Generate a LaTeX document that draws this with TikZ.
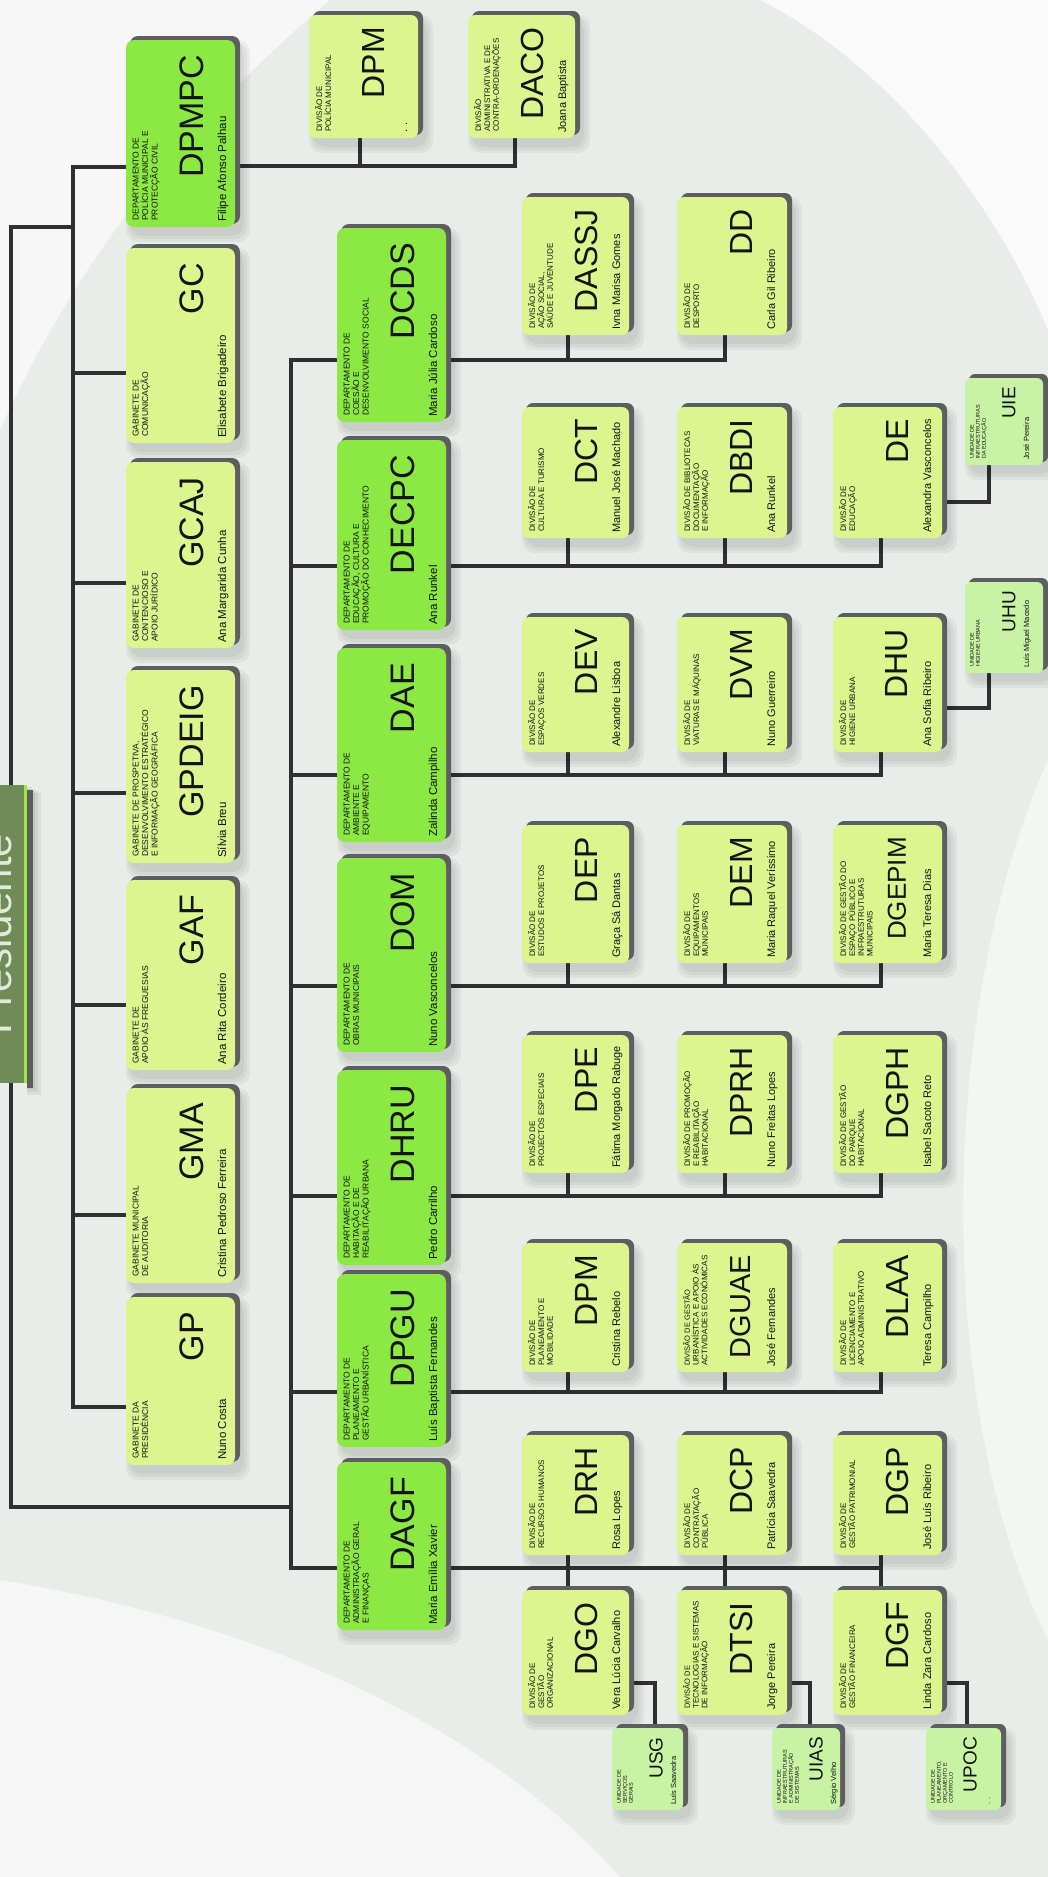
\documentclass[tikz,border=0pt]{standalone}
\usepackage{fontspec}
\setmainfont{Liberation Sans}
\pgfdeclarelayer{back}
\pgfdeclarelayer{wires}
\pgfsetlayers{back,wires,main}
\definecolor{bg}{HTML}{E9EDE9}
\definecolor{deptg}{HTML}{8CE842}
\definecolor{pale}{HTML}{DCF58E}
\definecolor{unitg}{HTML}{C8F2A4}
\definecolor{rim}{HTML}{5E5E5E}
\definecolor{wirec}{HTML}{303030}
\definecolor{txt}{HTML}{141414}
\definecolor{pres}{HTML}{6F8B58}
\definecolor{presline}{HTML}{9EEA3A}
\definecolor{presT}{HTML}{E2EADA}

\newcommand\setgab{\def\oF{pale}\def\oT{6.5}\def\oA{66}\def\oM{15}\def\oP{100}\def\oR{8pt}%
  \def\oTF{\fontsize{8.5}{9.5}\selectfont}\def\oAF{\fontsize{34}{34}\selectfont}\def\oPF{\fontsize{11.5}{12}\selectfont}}
\newcommand\setdept{\setgab\def\oF{deptg}}
\newcommand\setdiv{\def\oF{pale}\def\oT{6}\def\oA{64}\def\oM{12}\def\oP{98}\def\oR{7pt}%
  \def\oTF{\fontsize{8}{8.8}\selectfont}\def\oAF{\fontsize{32}{32}\selectfont}\def\oPF{\fontsize{11}{11}\selectfont}}
\newcommand\setunit{\def\oF{unitg}\def\oT{5}\def\oA{44}\def\oM{9}\def\oP{64}\def\oR{6pt}%
  \def\oTF{\fontsize{5.5}{6}\selectfont}\def\oAF{\fontsize{19}{19}\selectfont}\def\oPF{\fontsize{7.5}{8}\selectfont}}

% #1 name #2 kind #3 x1 #4 y1 #5 x2 #6 y2 #7 title #8 acronym #9 person
\newcommand\obox[9]{%
  \csname set#2\endcsname
  \foreach \k in {1,2,3}{\fill[black,opacity=0.045,rounded corners=12pt] ({#3+6-2*\k},{#4+6-2*\k}) rectangle ({#5+6+3*\k},{#6+6+3*\k});}
  \fill[rim,rounded corners=\oR] ({#3+4},{#4-4}) rectangle ({#5+5},{#6-3});
  \node[fill=\oF,rounded corners=\oR,inner sep=0pt,outer sep=0pt,anchor=north west,
        minimum width={(#5-#3)*1pt},minimum height={(#6-#4)*1pt}] (#1) at (#3,#4) {};
  \node[rotate=90,anchor=north west,inner sep=0pt,align=left,font=\oTF,text=txt] at ({#3+\oT},{#6-6}) {#7};
  \node[rotate=90,anchor=east,inner sep=0pt,font=\oAF,text=txt] at ({#3+\oA},{#4+\oM}) {#8};
  \node[rotate=90,anchor=base west,inner sep=0pt,font=\oPF,text=txt] at ({#3+\oP},{#6-5}) {#9};
}

\begin{document}
\begin{tikzpicture}[x=1pt,y=-1pt,
  wire/.style={draw=wirec,line width=4pt,line cap=rect,line join=miter}]
\useasboundingbox (0,0) rectangle (1048,1877);

\begin{pgfonlayer}{back}
\fill[bg] (0,0) rectangle (1048,1877);
\fill[white,opacity=0.6] (0,0) -- (330,0) .. controls (200,110) and (80,250) .. (0,430) -- cycle;
\fill[white,opacity=0.75] (760,0) .. controls (880,60) and (990,190) .. (1048,330) -- (1048,0) -- cycle;
\fill[white,opacity=0.5] (1048,760) .. controls (940,1000) and (930,1400) .. (1048,1640) -- cycle;
\fill[white,opacity=0.55] (0,1580) .. controls (250,1620) and (480,1720) .. (620,1877) -- (0,1877) -- cycle;
\end{pgfonlayer}

% Presidente
\foreach \k in {1,2,3,4}{\fill[black,opacity=0.06] (27,{785+2*\k}) rectangle ({29+3*\k},{1083+3*\k});}
\fill[rim] (27,790) rectangle (33,1088);
\node[fill=pres,inner sep=0pt,outer sep=0pt,anchor=north west,minimum width=100pt,minimum height=298pt] (pres) at (-73,785) {};
\fill[presline] (23.5,785) rectangle (27,1083);
\node[rotate=90,anchor=base,inner sep=0pt,font=\fontsize{42}{42}\selectfont,text=presT] (prestext) at (12,934) {Presidente};

% Gabinetes
\obox{DPMPC}{dept}{126}{40}{235}{227}{DEPARTAMENTO DE\\POLÍCIA MUNICIPAL E\\PROTECÇÃO CIVIL}{DPMPC}{Filipe Afonso Palhau}
\obox{GC}{gab}{126}{248}{235}{443}{GABINETE DE\\COMUNICAÇÃO}{GC}{Elisabete Brigadeiro}
\obox{GCAJ}{gab}{126}{462}{235}{648}{GABINETE DE\\CONTENCIOSO E\\APOIO JURÍDICO}{GCAJ}{Ana Margarida Cunha}
\obox{GPDEIG}{gab}{126}{670}{235}{863}{GABINETE DE PROSPETIVA,\\DESENVOLVIMENTO ESTRATÉGICO\\E INFORMAÇÃO GEOGRÁFICA}{GPDEIG}{Sílvia Breu}
\obox{GAF}{gab}{126}{880}{235}{1070}{GABINETE DE\\APOIO ÀS FREGUESIAS}{GAF}{Ana Rita Cordeiro}
\obox{GMA}{gab}{126}{1088}{235}{1283}{GABINETE MUNICIPAL\\DE AUDITORIA}{GMA}{Cristina Pedroso Ferreira}
\obox{GP}{gab}{126}{1297}{235}{1465}{GABINETE DA\\PRESIDÊNCIA}{GP}{Nuno Costa}

% Departamentos
\obox{DCDS}{dept}{337}{228}{446}{422}{DEPARTAMENTO DE\\COESÃO E\\DESENVOLVIMENTO SOCIAL}{DCDS}{Maria Júlia Cardoso}
\obox{DECPC}{dept}{337}{440}{446}{630}{DEPARTAMENTO DE\\EDUCAÇÃO, CULTURA E\\PROMOÇÃO DO CONHECIMENTO}{DECPC}{Ana Runkel}
\obox{DAE}{dept}{337}{648}{446}{842}{DEPARTAMENTO DE\\AMBIENTE E\\EQUIPAMENTO}{DAE}{Zalinda Campilho}
\obox{DOM}{dept}{337}{858}{446}{1052}{DEPARTAMENTO DE\\OBRAS MUNICIPAIS}{DOM}{Nuno Vasconcelos}
\obox{DHRU}{dept}{337}{1070}{446}{1265}{DEPARTAMENTO DE\\HABITAÇÃO E DE\\REABILITAÇÃO URBANA}{DHRU}{Pedro Carrilho}
\obox{DPGU}{dept}{337}{1274}{446}{1447}{DEPARTAMENTO DE\\PLANEAMENTO E\\GESTÃO URBANÍSTICA}{DPGU}{Luís Baptista Fernandes}
\obox{DAGF}{dept}{337}{1462}{446}{1630}{DEPARTAMENTO DE\\ADMINISTRAÇÃO GERAL\\E FINANÇAS}{DAGF}{Maria Emília Xavier}

% Divisoes DPMPC
\obox{DPMa}{div}{309}{15}{418}{138}{DIVISÃO DE\\POLÍCIA MUNICIPAL}{DPM}{. .}
\obox{DACO}{div}{468}{15}{575}{138}{DIVISÃO\\ADMINISTRATIVA E DE\\CONTRA-ORDENAÇÕES}{DACO}{Joana Baptista}
% DCDS
\obox{DASSJ}{div}{522}{197}{629}{335}{DIVISÃO DE\\AÇÃO SOCIAL,\\SAÚDE E JUVENTUDE}{DASSJ}{Ivna Marisa Gomes}
\obox{DD}{div}{677}{197}{787}{335}{DIVISÃO DE\\DESPORTO}{DD}{Carla Gil Ribeiro}
% DECPC
\obox{DCT}{div}{522}{407}{629}{538}{DIVISÃO DE\\CULTURA E TURISMO}{DCT}{Manuel José Machado}
\obox{DBDI}{div}{677}{407}{787}{538}{DIVISÃO DE BIBLIOTECAS\\DOCUMENTAÇÃO\\E INFORMAÇÃO}{DBDI}{Ana Runkel}
\obox{DE}{div}{833}{407}{942}{538}{DIVISÃO DE\\EDUCAÇÃO}{DE}{Alexandra Vasconcelos}
\obox{UIE}{unit}{965}{378}{1043}{465}{UNIDADE DE\\INFRAESTRUTURAS\\DA EDUCAÇÃO}{UIE}{José Pereira}
% DAE
\obox{DEV}{div}{522}{617}{629}{752}{DIVISÃO DE\\ESPAÇOS VERDES}{DEV}{Alexandre Lisboa}
\obox{DVM}{div}{677}{617}{787}{752}{DIVISÃO DE\\VIATURAS E MÁQUINAS}{DVM}{Nuno Guerreiro}
\obox{DHU}{div}{833}{617}{942}{752}{DIVISÃO DE\\HIGIENE URBANA}{DHU}{Ana Sofia Ribeiro}
\obox{UHU}{unit}{965}{582}{1043}{673}{UNIDADE DE\\HIGIENE URBANA}{UHU}{Luís Miguel Macedo}
% DOM
\obox{DEP}{div}{522}{825}{629}{963}{DIVISÃO DE\\ESTUDOS E PROJETOS}{DEP}{Graça Sá Dantas}
\obox{DEM}{div}{677}{825}{787}{963}{DIVISÃO DE\\EQUIPAMENTOS\\MUNICIPAIS}{DEM}{Maria Raquel Veríssimo}
\obox{DGEPIM}{div}{833}{825}{942}{963}{DIVISÃO DE GESTÃO DO\\ESPAÇO PÚBLICO E\\INFRAESTRUTURAS\\MUNICIPAIS}{\fontsize{26}{26}\selectfont DGEPIM}{Maria Teresa Dias}
% DHRU
\obox{DPE}{div}{522}{1035}{629}{1173}{DIVISÃO DE\\PROJECTOS ESPECIAIS}{DPE}{Fátima Morgado Rabuge}
\obox{DPRH}{div}{677}{1035}{787}{1173}{DIVISÃO DE PROMOÇÃO\\E REABILITAÇÃO\\HABITACIONAL}{DPRH}{Nuno Freitas Lopes}
\obox{DGPH}{div}{833}{1035}{942}{1173}{DIVISÃO DE GESTÃO\\DO PARQUE\\HABITACIONAL}{DGPH}{Isabel Sacoto Reto}
% DPGU
\obox{DPMb}{div}{522}{1243}{629}{1372}{DIVISÃO DE\\PLANEAMENTO E\\MOBILIDADE}{DPM}{Cristina Rebelo}
\obox{DGUAE}{div}{677}{1243}{787}{1372}{\fontsize{7.5}{8.5}\selectfont DIVISÃO DE GESTÃO\\URBANÍSTICA E APOIO ÀS\\ACTIVIDADES ECONÓMICAS}{\fontsize{29}{29}\selectfont DGUAE}{José Fernandes}
\obox{DLAA}{div}{833}{1243}{942}{1372}{DIVISÃO DE\\LICENCIAMENTO E\\APOIO ADMINISTRATIVO}{DLAA}{Teresa Campilho}
% DAGF
\obox{DRH}{div}{522}{1435}{629}{1555}{DIVISÃO DE\\RECURSOS HUMANOS}{DRH}{Rosa Lopes}
\obox{DCP}{div}{677}{1435}{787}{1555}{DIVISÃO DE\\CONTRATAÇÃO\\PÚBLICA}{DCP}{Patrícia Saavedra}
\obox{DGP}{div}{833}{1435}{942}{1555}{DIVISÃO DE\\GESTÃO PATRIMONIAL}{DGP}{José Luís Ribeiro}
\obox{DGO}{div}{522}{1590}{629}{1715}{DIVISÃO DE\\GESTÃO\\ORGANIZACIONAL}{DGO}{Vera Lúcia Carvalho}
\obox{DTSI}{div}{677}{1590}{787}{1715}{\fontsize{7.5}{8.5}\selectfont DIVISÃO DE\\TECNOLOGIAS E SISTEMAS\\DE INFORMAÇÃO}{DTSI}{Jorge Pereira}
\obox{DGF}{div}{833}{1590}{942}{1715}{DIVISÃO DE\\GESTÃO FINANCEIRA}{DGF}{Linda Zara Cardoso}
\obox{USG}{unit}{612}{1728}{683}{1810}{UNIDADE DE\\SERVIÇOS\\GERAIS}{USG}{Luís Saavedra}
\obox{UIAS}{unit}{772}{1728}{840}{1810}{UNIDADE DE\\INFRAESTRUTURAS\\E ADMINISTRAÇÃO\\DE SISTEMAS}{UIAS}{Sérgio Velho}
\obox{UPOC}{unit}{926}{1728}{1001}{1810}{UNIDADE DE\\PLANEAMENTO,\\ORÇAMENTO E\\CONTROLO}{UPOC}{. .}

\begin{pgfonlayer}{wires}
\coordinate (tA1) at (11,227);
\coordinate (tA2) at (11,1507);
\coordinate (gT) at (73,167);
\coordinate (gB) at (73,1407);
\coordinate (dT) at (291,360);
\coordinate (dB) at (291,1568);
\draw[wire] (tA1 -| gT) -- (tA1) -- (tA2) -- (tA2 -| dT);
\draw[wire] (gT) -- (gB);
\draw[wire] (dT) -- (dB);
\foreach \nm/\yy in {DPMPC/167,GC/373,GCAJ/583,GPDEIG/793,GAF/1005,GMA/1215,GP/1407}{
  \coordinate (tmp) at (73,\yy);
  \draw[wire] (tmp) -- (tmp -| \nm.west);}
\foreach \nm/\yy/\ee in {DCDS/360/725,DECPC/566/881,DAE/775/881,DOM/986/881,DHRU/1196/881,DPGU/1392/881,DAGF/1568/881}{
  \coordinate (tmp) at (291,\yy);
  \draw[wire] (tmp) -- (tmp -| \nm.west);
  \coordinate (tmpe) at (\ee,\yy);
  \draw[wire] (tmpe -| \nm.east) -- (tmpe);}
\foreach \ch/\xx/\yy in {DASSJ/568/360,DD/725/360,DCT/568/566,DBDI/725/566,DE/881/566,
  DEV/568/775,DVM/725/775,DHU/881/775,DEP/568/986,DEM/725/986,DGEPIM/881/986,
  DPE/568/1196,DPRH/725/1196,DGPH/881/1196,DPMb/568/1392,DGUAE/725/1392,DLAA/881/1392,
  DRH/568/1568,DCP/725/1568,DGP/881/1568}{
  \coordinate (tmp) at (\xx,\yy);
  \draw[wire] (tmp) -- (tmp |- \ch.south);}
\foreach \ch/\xx in {DGO/568,DTSI/725,DGF/881}{
  \coordinate (tmp) at (\xx,1568);
  \draw[wire] (tmp) -- (tmp |- \ch.north);}
\coordinate (tp) at (515,166);
\draw[wire] (tp -| DPMPC.east) -- (tp) -- (tp |- DACO.south);
\coordinate (tq) at (360,166);
\draw[wire] (tq) -- (tq |- DPMa.south);
\foreach \pa/\un/\xx/\yy in {DE/UIE/989/502,DHU/UHU/989/708}{
  \coordinate (tmp) at (\xx,\yy);
  \draw[wire] (tmp -| \pa.east) -- (tmp) -- (tmp |- \un.south);}
\foreach \pa/\un/\xx in {DGO/USG/655,DTSI/UIAS/810,DGF/UPOC/967}{
  \coordinate (tmp) at (\xx,1683);
  \draw[wire] (tmp -| \pa.east) -- (tmp) -- (tmp |- \un.north);}
\end{pgfonlayer}
\end{tikzpicture}
\end{document}
